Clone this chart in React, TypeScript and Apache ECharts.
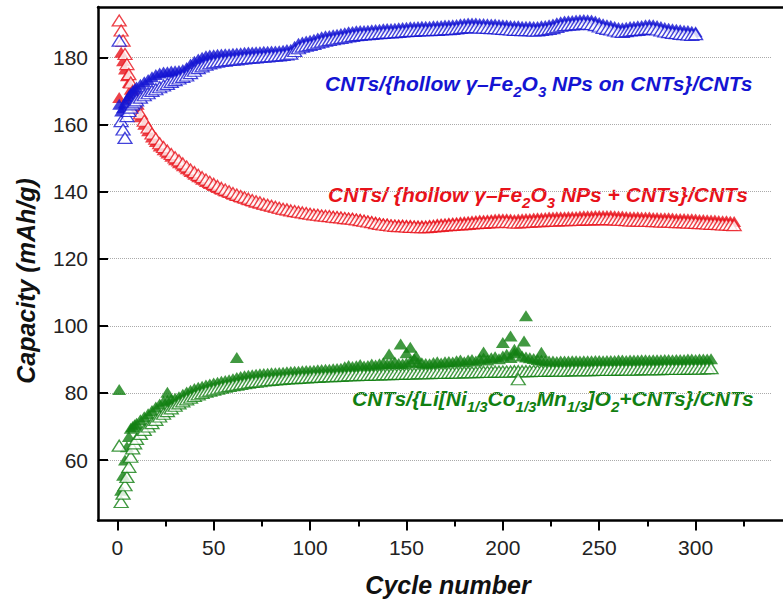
import React, { useEffect, useRef } from "react";
import * as echarts from "echarts";

// Cycle positions: cycles 1..10, then every 2nd cycle from 12 on
const FIRST_CYCLES = 10;
const STEP_START = 12;
const STEP = 2;

// Blue: CNTs/{hollow γ-Fe2O3 NPs on CNTs}/CNTs (cycles 1..300)
const blueCharge = [
  166, 164, 165, 166.5, 167.5, 168.5, 169.3, 170, 170.6, 171.2,
  172, 172.7, 173.4, 174.2, 174.9, 175.3, 175.6, 175.7, 175.9, 176,
  176.1, 176.4, 177, 178, 178.8, 179.5, 180, 180.5, 180.7, 180.8,
  180.9, 181, 181.1, 181.1, 181.2, 181.3, 181.4, 181.5, 181.6, 181.6,
  181.7, 181.7, 181.8, 181.8, 181.9, 181.9, 182, 182.1, 182.3, 182.4,
  183.3, 184.2, 184.6, 184.9, 185.1, 185.4, 185.8, 186.1, 186.4, 186.5,
  186.7, 186.9, 187.1, 187.3, 187.6, 187.7, 187.9, 188, 188, 188.1,
  188.2, 188.3, 188.4, 188.5, 188.6, 188.6, 188.7, 188.8, 188.9, 189,
  189.1, 189.1, 189.2, 189.3, 189.3, 189.3, 189.4, 189.4, 189.5, 189.6,
  189.6, 189.7, 189.8, 190, 190.1, 190.2, 190.2, 190.2, 190.1, 190.1,
  190, 189.9, 189.9, 189.8, 189.7, 189.6, 189.5, 189.4, 189.4, 189.3,
  189.3, 189.3, 189.2, 189.2, 189.4, 189.5, 189.7, 189.9, 190.3, 190.6,
  190.8, 190.9, 191, 191.1, 191.2, 191.3, 191.2, 191.1, 190.8, 190.4,
  190, 189.7, 189.5, 189.2, 188.9, 188.8, 189, 189.2, 189.3, 189.4,
  189.5, 189.7, 189.8, 189.7, 189.5, 189.2, 188.9, 188.7, 188.5, 188.4,
  188.2, 188.1, 188, 187.8, 187.6,
];
const blueDischarge = [
  185, 161, 158.5, 156, 162.5, 164, 165, 166, 166.6, 167.2,
  168, 168.7, 169.3, 170, 170.5, 171.1, 171.6, 172.1, 172.7, 173.2,
  173.7, 174.2, 174.6, 175.3, 176, 176.8, 177.3, 177.8, 178.2, 178.5,
  178.7, 178.9, 179, 179.2, 179.3, 179.4, 179.6, 179.7, 179.8, 179.9,
  180, 180.1, 180.2, 180.3, 180.4, 180.5, 180.6, 180.7, 180.9, 181.1,
  181.9, 182.7, 183.2, 183.5, 183.7, 184, 184.4, 184.7, 185, 185.2,
  185.4, 185.6, 185.8, 186, 186.2, 186.4, 186.6, 186.7, 186.8, 186.9,
  187, 187.1, 187.2, 187.3, 187.4, 187.4, 187.5, 187.6, 187.7, 187.8,
  187.9, 187.9, 188, 188.1, 188.1, 188.1, 188.2, 188.2, 188.3, 188.4,
  188.4, 188.5, 188.6, 188.8, 188.9, 189, 189, 189, 188.9, 188.9,
  188.8, 188.7, 188.7, 188.6, 188.5, 188.4, 188.3, 188.2, 188.2, 188.1,
  188.1, 188.1, 188, 188, 188.2, 188.3, 188.5, 188.7, 189.1, 189.4,
  189.6, 189.7, 189.8, 189.9, 190, 190.1, 190, 189.9, 189.6, 189.2,
  188.8, 188.5, 188.3, 188, 187.7, 187.6, 187.8, 188, 188.1, 188.2,
  188.3, 188.5, 188.6, 188.5, 188.3, 188, 187.7, 187.5, 187.3, 187.2,
  187, 186.9, 186.8, 186.7, 186.9,
];

// Red: CNTs/ {hollow γ-Fe2O3 NPs + CNTs}/CNTs (cycles 1..320)
const redCharge = [
  168, 181.5, 179, 176.5, 174.5, 172.5, 170.5, 168.5, 166.8, 165,
  162.3, 160.1, 158.1, 156.3, 154.9, 153.6, 152.5, 151.5, 150.5, 149.5,
  148.6, 147.7, 146.8, 146, 145.2, 144.4, 143.7, 143, 142.4, 141.8,
  141.2, 140.7, 140.2, 139.7, 139.2, 138.8, 138.4, 138, 137.6, 137.2,
  136.9, 136.6, 136.3, 136, 135.7, 135.4, 135.1, 134.8, 134.6, 134.4,
  134.2, 134, 133.8, 133.7, 133.5, 133.3, 133.2, 133, 132.9, 132.8,
  132.7, 132.6, 132.5, 132.3, 132.2, 132.1, 131.9, 131.8, 131.6, 131.4,
  131.2, 131, 130.8, 130.6, 130.5, 130.3, 130.2, 130.2, 130.2, 130.1,
  130.1, 130, 130, 130, 130, 130.1, 130.2, 130.4, 130.5, 130.6,
  130.7, 130.8, 130.9, 131, 131.1, 131.2, 131.3, 131.4, 131.5, 131.5,
  131.6, 131.7, 131.8, 131.9, 131.9, 131.9, 131.8, 131.7, 131.8, 131.9,
  132, 132, 132.1, 132.2, 132.2, 132.3, 132.4, 132.4, 132.5, 132.5,
  132.5, 132.6, 132.6, 132.6, 132.7, 132.8, 132.8, 132.8, 132.9, 132.9,
  132.9, 132.9, 132.9, 132.8, 132.7, 132.7, 132.6, 132.5, 132.5, 132.5,
  132.4, 132.4, 132.4, 132.3, 132.3, 132.2, 132.2, 132.2, 132.1, 132,
  132, 132, 131.9, 131.9, 131.8, 131.7, 131.7, 131.6, 131.5, 131.5,
  131.4, 131.3, 131.3, 131.2, 131.1,
];
const redDischarge = [
  191, 188, 185, 181, 178, 175, 172.5, 170, 168, 166.2,
  163.3, 161.1, 159.1, 157.3, 155.8, 154.4, 153.3, 152.2, 151.2, 150.2,
  149.3, 148.4, 147.5, 146.6, 145.8, 145, 144.3, 143.6, 142.9, 142.3,
  141.7, 141.1, 140.6, 140.1, 139.6, 139.1, 138.7, 138.3, 137.9, 137.5,
  137.1, 136.8, 136.4, 136.1, 135.8, 135.5, 135.2, 134.9, 134.7, 134.4,
  134.2, 134, 133.8, 133.6, 133.4, 133.2, 133.1, 132.9, 132.8, 132.7,
  132.5, 132.4, 132.3, 132.1, 132, 131.9, 131.7, 131.5, 131.3, 131.1,
  130.9, 130.6, 130.4, 130.2, 130.1, 129.9, 129.8, 129.7, 129.7, 129.6,
  129.5, 129.5, 129.4, 129.4, 129.4, 129.5, 129.6, 129.7, 129.8, 129.9,
  130, 130.1, 130.2, 130.2, 130.3, 130.4, 130.5, 130.6, 130.7, 130.7,
  130.8, 130.9, 130.9, 131, 131, 131, 130.9, 130.8, 130.8, 130.9,
  131, 131, 131.1, 131.2, 131.2, 131.3, 131.4, 131.4, 131.4, 131.5,
  131.5, 131.5, 131.6, 131.6, 131.6, 131.7, 131.7, 131.7, 131.8, 131.8,
  131.8, 131.8, 131.8, 131.7, 131.6, 131.6, 131.5, 131.4, 131.4, 131.4,
  131.3, 131.3, 131.3, 131.2, 131.2, 131.1, 131.1, 131.1, 131, 130.9,
  130.9, 130.9, 130.8, 130.8, 130.7, 130.6, 130.6, 130.5, 130.4, 130.4,
  130.3, 130.2, 130.2, 130.1, 130,
];

// Green: CNTs/{Li[Ni1/3Co1/3Mn1/3]O2+CNTs}/CNTs (cycles 1..308)
const greenCharge = [
  81, 51, 55.5, 60, 64, 67, 69.5, 70, 70.5, 71,
  72, 72.9, 73.8, 74.8, 75.8, 76.7, 77.5, 77.8, 78.1, 78.4,
  78.9, 79.6, 80.3, 80.8, 81.3, 81.7, 82, 82.4, 82.7, 83,
  83.2, 83.5, 83.7, 83.9, 84.2, 84.6, 84.9, 85.1, 85.3, 85.4,
  85.6, 85.7, 85.8, 85.9, 86, 86, 86.1, 86.2, 86.3, 86.4,
  86.5, 86.5, 86.6, 86.7, 86.7, 86.8, 86.9, 87, 87.1, 87.1,
  87.2, 87.3, 87.4, 87.8, 88.2, 87.9, 88.1, 88.5, 88, 88.2,
  88.6, 88.3, 88.7, 89, 88.6, 88.8, 89.2, 88.8, 88.7, 88.9,
  89.4, 90.2, 89.1, 89, 88.8, 88.7, 89.1, 89.3, 88.9, 89.3,
  89.4, 89.2, 89.6, 89.8, 89.3, 89.8, 90, 89.5, 90.1, 90.4,
  89.8, 90.5, 90.8, 90.2, 91, 91.5, 90.6, 92, 92.5, 91,
  90.7, 90.5, 90.3, 90, 89.8, 89.6, 89.5, 89.5, 89.4, 89.5,
  89.5, 89.5, 89.6, 89.6, 89.5, 89.6, 89.6, 89.6, 89.7, 89.7,
  89.6, 89.7, 89.7, 89.7, 89.8, 89.8, 89.7, 89.8, 89.8, 89.8,
  89.9, 89.9, 89.8, 89.9, 89.9, 89.9, 90, 90, 89.9, 90,
  90, 90, 90.1, 90.1, 90, 90.1, 90.1, 90.1, 90.2,
];
const greenDischarge = [
  64.3, 47.5, 50, 52.5, 55, 58, 61, 63.5, 65, 66.3,
  67.8, 69, 70, 71, 72, 73, 73.8, 74.6, 75.4, 76.2,
  76.9, 77.5, 78.1, 78.6, 79.1, 79.6, 80, 80.4, 80.7, 81,
  81.3, 81.6, 81.9, 82.1, 82.3, 82.5, 82.7, 82.9, 83.1, 83.3,
  83.4, 83.5, 83.7, 83.8, 83.9, 84, 84.1, 84.2, 84.3, 84.4,
  84.4, 84.5, 84.6, 84.6, 84.7, 84.8, 84.8, 84.9, 85, 85,
  85, 85.1, 85.1, 85.2, 85.3, 85.3, 85.3, 85.4, 85.4, 85.4,
  85.5, 85.5, 85.5, 85.6, 85.6, 85.6, 85.7, 85.7, 85.7, 85.8,
  85.8, 85.8, 85.9, 85.9, 85.9, 85.9, 86, 86, 86, 86,
  86.1, 86.1, 86.1, 86.1, 86.2, 86.2, 86.2, 86.2, 86.3, 86.3,
  86.3, 86.3, 86.4, 86.4, 86.4, 86.4, 86.4, 86.5, 86.5, 86.5,
  86.5, 86.5, 86.6, 86.6, 86.6, 86.6, 86.7, 86.7, 86.7, 86.7,
  86.7, 86.7, 86.8, 86.8, 86.8, 86.8, 86.8, 86.8, 86.9, 86.9,
  86.9, 86.9, 86.9, 86.9, 87, 87, 87, 87, 87, 87,
  87.1, 87.1, 87.1, 87.1, 87.1, 87.1, 87.2, 87.2, 87.2, 87.2,
  87.2, 87.2, 87.3, 87.3, 87.3, 87.3, 87.3, 87.4, 87.4,
];
// Scattered green points off the band: [cycle, capacity]
const greenChargeSpikes: [number, number][] = [
  [26, 80.2], [62, 90.6], [141, 91.6], [147, 94.6], [150, 92], [152, 93.6],
  [155, 91], [190, 92.2], [200, 95], [204, 97], [206, 93], [211, 95.5],
  [212, 103], [220, 92.1],
];
const greenDischargeSpikes: [number, number][] = [[208, 84.1]];

const xMajorTicks = [0, 50, 100, 150, 200, 250, 300, 350];
const xLabels = [0, 50, 100, 150, 200, 250, 300];
const xMinorTicks = [25, 75, 125, 175, 225, 275, 325];
const yTicks = [60, 80, 100, 120, 140, 160, 180];
const X_MIN = -10;
const X_MAX = 350;
const Y_MIN = 42;
const Y_MAX = 195;

const BLUE = "#1414d2";
const RED = "#e8121a";
const GREEN = "#118011";
const FONT = '"Liberation Sans", Arial, Helvetica, sans-serif';
const W = 783;
const H = 605;
const GRID_LEFT = 98;
const GRID_TOP = 7;
const GRID_BOTTOM = 84.5;
const GRID_WIDTH = 694;

function withCycles(values: number[]): [number, number][] {
  return values.map((v, i) => [i < FIRST_CYCLES ? i + 1 : STEP_START + STEP * (i - FIRST_CYCLES), v]);
}

function filled(data: [number, number][], color: string) {
  return {
    type: "scatter",
    data,
    symbol: "triangle",
    symbolSize: [14, 11],
    itemStyle: { color },
    silent: true,
  };
}
function open(data: [number, number][], color: string) {
  return {
    type: "scatter",
    data,
    symbol: "triangle",
    symbolSize: [14, 11],
    itemStyle: { color: "#ffffff", borderColor: color, borderWidth: 1.3 },
    silent: true,
  };
}

function label(x: number, y: number, text: string, color: string) {
  return {
    type: "text",
    x,
    y,
    style: {
      text,
      fill: color,
      fontSize: 21,
      fontWeight: "bold",
      fontStyle: "italic",
      fontFamily: FONT,
      align: "left",
      verticalAlign: "middle",
      textAlign: "left",
      textVerticalAlign: "middle",
      rich: {
        s: {
          fill: color,
          fontSize: 15,
          fontWeight: "bold",
          fontStyle: "italic",
          fontFamily: FONT,
          padding: [16, 0, 0, 0],
        },
      },
    },
  };
}

function axisTitle(x: number, y: number, text: string, rotation: number) {
  return {
    type: "text",
    x,
    y,
    rotation,
    style: {
      text,
      fill: "#111",
      fontSize: 25,
      fontWeight: "bold",
      fontStyle: "italic",
      fontFamily: FONT,
      align: "center",
      verticalAlign: "middle",
      textAlign: "center",
      textVerticalAlign: "middle",
    },
  };
}

export default function App() {
  const ref = useRef<HTMLDivElement>(null);
  useEffect(() => {
    if (!ref.current) return;
    const chart = echarts.init(ref.current, undefined, { renderer: "svg" });
    const axisLineStyle = { color: "#000", width: 2.5 };
    chart.setOption({
      animation: false,
      backgroundColor: "#fff",
      textStyle: { fontFamily: FONT },
      grid: {
        left: GRID_LEFT,
        top: GRID_TOP,
        width: GRID_WIDTH,
        bottom: GRID_BOTTOM,
        outerBoundsMode: "none",
        containLabel: false,
        show: false,
      },
      xAxis: [
        {
          type: "value",
          min: X_MIN,
          max: X_MAX,
          position: "bottom",
          axisLine: { show: true, onZero: false, lineStyle: axisLineStyle },
          axisTick: { show: true, inside: false, length: 10, customValues: xMajorTicks, lineStyle: { color: "#000", width: 2 } },
          axisLabel: { customValues: xLabels, fontSize: 21, color: "#222", margin: 16, fontFamily: FONT },
          splitLine: { show: false },
        },
        {
          type: "value",
          min: X_MIN,
          max: X_MAX,
          position: "bottom",
          axisLine: { show: false, onZero: false },
          axisTick: { show: true, inside: false, length: 6, customValues: xMinorTicks, lineStyle: { color: "#000", width: 2 } },
          axisLabel: { show: false },
          splitLine: { show: false },
        },
        {
          type: "value",
          min: X_MIN,
          max: X_MAX,
          position: "top",
          axisLine: { show: true, onZero: false, lineStyle: axisLineStyle },
          axisTick: { show: false },
          axisLabel: { show: false },
          splitLine: { show: false },
        },
      ],
      yAxis: {
        type: "value",
        min: Y_MIN,
        max: Y_MAX,
        position: "left",
        axisLine: { show: true, onZero: false, lineStyle: axisLineStyle },
        axisTick: { show: true, inside: true, length: 10, customValues: yTicks, lineStyle: { color: "#000", width: 2 } },
        axisLabel: { customValues: yTicks, fontSize: 21, color: "#222", margin: 10, fontFamily: FONT },
        splitLine: { show: true, lineStyle: { color: "#aaa", type: "dotted", width: 1 } },
      },
      series: [
        filled(withCycles(redCharge), RED),
        open(withCycles(redDischarge), RED),
        filled([...withCycles(greenCharge), ...greenChargeSpikes], GREEN),
        open([...withCycles(greenDischarge), ...greenDischargeSpikes], GREEN),
        filled(withCycles(blueCharge), BLUE),
        open(withCycles(blueDischarge), BLUE),
      ],
      graphic: [
        axisTitle(26, 281, "Capacity (mAh/g)", Math.PI / 2),
        axisTitle(448, 585, "Cycle number", 0),
        label(325, 83, "CNTs/{hollow γ–Fe{s|2}O{s|3} NPs on CNTs}/CNTs", BLUE),
        label(328, 194, "CNTs/ {hollow γ–Fe{s|2}O{s|3} NPs + CNTs}/CNTs", RED),
        label(352, 398, "CNTs/{Li[Ni{s|1/3}Co{s|1/3}Mn{s|1/3}]O{s|2}+CNTs}/CNTs", GREEN),
      ],
    });
    return () => chart.dispose();
  }, []);
  const yBottom = H - GRID_BOTTOM;
  return (
    <div
      style={{ position: "fixed", left: 0, top: 0, width: W, height: H, overflow: "hidden", background: "#fff" }}
    >
      <div ref={ref} style={{ position: "absolute", left: 0, top: 0, width: 830, height: H }} />
      {/* the plot frame runs on past the picture's right edge */}
      <div style={{ position: "absolute", left: 772, top: GRID_TOP + 2, width: 20, height: yBottom - GRID_TOP - 4, background: "#fff", zIndex: 5 }} />
    </div>
  );
}
